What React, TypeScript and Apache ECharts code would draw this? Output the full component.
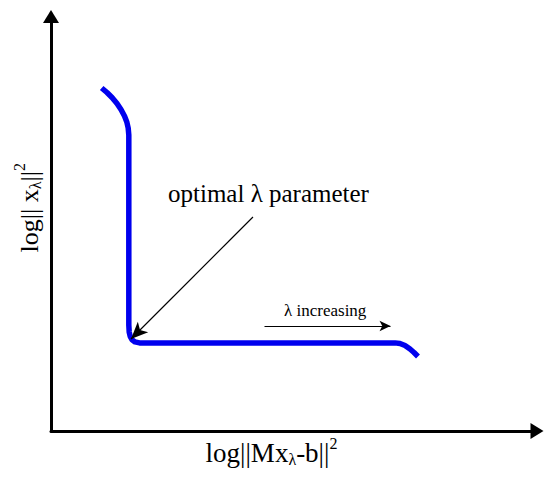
import React, { useEffect, useRef } from "react";
import * as echarts from "echarts";

// L-curve sample values (abstract log units, 0..100 on each axis)
const curveX = [
  10.43, 11.52, 12.55, 13.58, 14.4, 15.12, 15.6, 15.88, 16.01, 16.01, 16.09, 16.3, 16.67, 17.28, 18.21,
  70.78, 71.81, 72.84, 73.87, 74.69, 75.51,
];
const curveY = [
  82.75, 81.66, 80.46, 79.01, 77.56, 75.99, 74.55, 73.1, 71.41, 25.57, 23.88, 22.8, 22.0, 21.5, 21.26,
  21.26, 21.11, 20.63, 19.78, 18.94, 17.97,
];

// annotation arrows (data coordinates)
const optimalArrowFrom = [41.56, 51.63];
const optimalArrowTo = [16.46, 22.2];
const increasingArrowFrom = [43.93, 25.33];
const increasingArrowTo = [69.86, 25.33];

const optimalLabel = "optimal λ parameter";
const increasingLabel = "λ increasing";

const FONT = "'Liberation Serif', 'Times New Roman', serif";

const makeRich = (size: number) => ({
  a: { fontSize: size, fontFamily: FONT, color: "#000" },
  sub: { fontSize: 16, fontFamily: FONT, color: "#000", padding: [12, 0, 0, 0] },
  sup: { fontSize: 16, fontFamily: FONT, color: "#000", padding: [0, 0, 20, 0] },
});

export default function App() {
  const ref = useRef<HTMLDivElement>(null);
  useEffect(() => {
    if (!ref.current) return;
    const chart = echarts.init(ref.current, null, { renderer: "svg" });
    const points = curveX.map((x, i) => [x, curveY[i]]);
    const axisCommon = {
      type: "value",
      min: 0,
      max: 100,
      splitLine: { show: false },
      axisTick: { show: false },
      axisLabel: { show: false },
      axisLine: {
        show: true,
        onZero: false,
        symbol: ["none", "triangle"],
        symbolSize: [16, 13],
        lineStyle: { color: "#000", width: 3 },
      },
      nameLocation: "middle",
      nameGap: 4,
    };
    chart.setOption({
      animation: false,
      grid: { left: 51, top: 16.5, right: 13, bottom: 52, containLabel: false },
      xAxis: {
        ...axisCommon,
        name: "{a|log||Mx}{sub|λ}{a|-b||}{sup|2}",
        nameTextStyle: { rich: makeRich(27), padding: [0, 45, 0, 0] },
      },
      yAxis: {
        ...axisCommon,
        name: "{a|log|| x}{sub|λ}{a|||}{sup|2}",
        nameTextStyle: { rich: makeRich(26), padding: [0, 0, 0, 32] },
      },
      series: [
        {
          type: "line",
          data: points,
          showSymbol: false,
          silent: true,
          lineStyle: { color: "#0000ee", width: 5.5, join: "round" },
        },
        {
          type: "line",
          data: [],
          silent: true,
          markLine: {
            silent: true,
            symbol: ["none", "arrow"],
            symbolSize: [11, 17],
            label: { show: false },
            lineStyle: { color: "#000", width: 1.2, type: "solid" },
            emphasis: { disabled: true },
            data: [[{ coord: optimalArrowFrom }, { coord: optimalArrowTo }]],
          },
        },
        {
          type: "line",
          data: [],
          silent: true,
          markLine: {
            silent: true,
            symbol: ["none", "arrow"],
            symbolSize: [8, 11],
            label: { show: false },
            lineStyle: { color: "#000", width: 1.2, type: "solid" },
            emphasis: { disabled: true },
            data: [[{ coord: increasingArrowFrom }, { coord: increasingArrowTo }]],
          },
        },
      ],
      graphic: [
        {
          type: "text",
          x: 168,
          y: 193.5,
          style: {
            text: optimalLabel,
            font: `25px ${FONT}`,
            fill: "#000",
            align: "left",
            verticalAlign: "middle",
          },
        },
        {
          type: "text",
          x: 284,
          y: 310,
          style: {
            text: increasingLabel,
            font: `17px ${FONT}`,
            fill: "#000",
            align: "left",
            verticalAlign: "middle",
          },
        },
      ],
    });
    return () => chart.dispose();
  }, []);
  return (
    <div
      ref={ref}
      style={{ position: "fixed", left: 0, top: 0, width: 550, height: 483, background: "#fff" }}
    />
  );
}
